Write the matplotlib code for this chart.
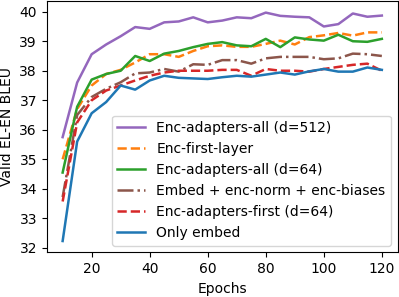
import numpy as np
import matplotlib
matplotlib.use('Agg')
import matplotlib.pyplot as plt

# epochs 10, 15, ..., 120
epochs = list(range(10, 121, 5))

adapters_all_512 = [35.75, 37.6, 38.56, 38.89, 39.17, 39.48, 39.42, 39.64, 39.67, 39.81,
                    39.64, 39.7, 39.81, 39.78, 39.97, 39.86, 39.83, 39.81, 39.5, 39.58,
                    39.94, 39.83, 39.87]
first_layer = [35.0, 36.7, 37.5, 37.89, 38.03, 38.28, 38.56, 38.56, 38.47, 38.67,
               38.83, 38.86, 38.81, 38.81, 38.91, 39.02, 38.89, 39.14, 39.2, 39.28,
               39.19, 39.3, 39.3]
adapters_all_64 = [34.55, 36.78, 37.7, 37.89, 38.0, 38.5, 38.33, 38.58, 38.67, 38.8,
                   38.91, 38.97, 38.86, 38.83, 39.08, 38.8, 39.13, 39.06, 39.02, 39.22,
                   39.0, 38.98, 39.08]
embed_norm_biases = [33.72, 36.5, 37.11, 37.39, 37.61, 37.91, 37.94, 38.06, 37.97, 38.22,
                     38.2, 38.36, 38.36, 38.24, 38.42, 38.47, 38.47, 38.47, 38.39, 38.42,
                     38.58, 38.56, 38.5]
adapters_first_64 = [33.57, 36.25, 37.0, 37.33, 37.5, 37.67, 37.83, 37.94, 38.0, 38.0,
                     38.0, 38.03, 38.03, 37.83, 38.06, 38.0, 38.0, 37.97, 38.06, 38.13,
                     38.2, 38.24, 38.0]
only_embed = [32.23, 35.6, 36.56, 36.94, 37.5, 37.36, 37.67, 37.83, 37.76, 37.74,
              37.72, 37.78, 37.83, 37.8, 37.87, 37.94, 37.87, 37.98, 38.06, 37.97,
              37.97, 38.11, 38.03]

series = [
    (adapters_all_512,  "Enc-adapters-all (d=512)",       "tab:purple", "-"),
    (first_layer,       "Enc-first-layer",                "tab:orange", "--"),
    (adapters_all_64,   "Enc-adapters-all (d=64)",        "tab:green",  "-"),
    (embed_norm_biases, "Embed + enc-norm + enc-biases",  "tab:brown",  "-."),
    (adapters_first_64, "Enc-adapters-first (d=64)",      "tab:red",    "--"),
    (only_embed,        "Only embed",                     "tab:blue",   "-"),
]

fig, ax = plt.subplots(figsize=(3.99, 2.97), dpi=100)
for vals, nom, couleur, style in series:
    ax.plot(epochs, vals, color=couleur, linestyle=style, linewidth=1.8, label=nom)

ax.set_xticks([20, 40, 60, 80, 100, 120])
ax.set_yticks(range(32, 41))
ax.set_xlabel("Epochs")
ax.set_ylabel("Valid EL-EN BLEU")
ax.legend(loc="lower right")

plt.subplots_adjust(left=0.117, right=0.997, top=0.996, bottom=0.15)
plt.savefig("out.png", dpi=100)
